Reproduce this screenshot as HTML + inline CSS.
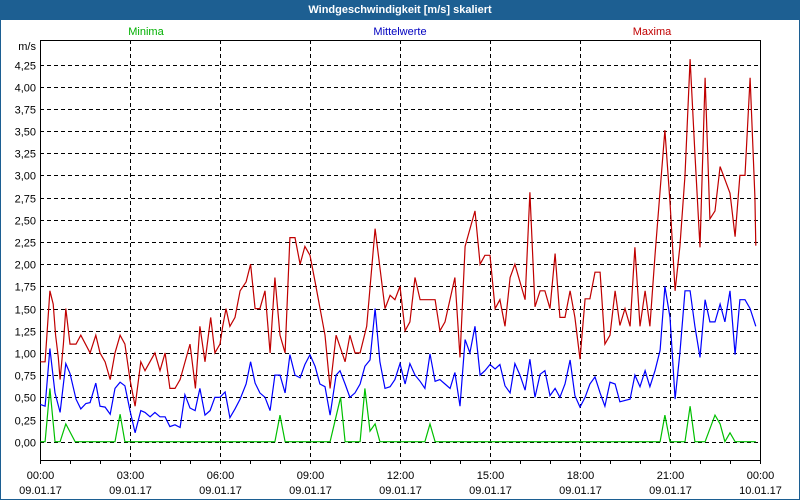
<!DOCTYPE html>
<html><head><meta charset="utf-8"><style>
body{margin:0;width:800px;height:500px;overflow:hidden;background:#fff;font-family:"Liberation Sans",sans-serif}
#win{position:absolute;left:0;top:0;width:798px;height:498px;border:1px solid #1c5e92;background:#fff}
#title{position:absolute;left:0;top:0;width:800px;height:20px;background:#1d5f92;color:#fff;font-weight:bold;font-size:11px;line-height:20px;text-align:center}
</style></head><body>
<div id="win"></div>
<div id="title">Windgeschwindigkeit [m/s] skaliert</div>
<svg id="chart" width="800" height="500" style="position:absolute;left:0;top:0" font-family="Liberation Sans, sans-serif" font-size="11"></svg>
<script>
const yTicks=[0,0.25,0.5,0.75,1,1.25,1.5,1.75,2,2.25,2.5,2.75,3,3.25,3.5,3.75,4,4.25];
const yTickLabels=["0,00","0,25","0,50","0,75","1,00","1,25","1,50","1,75","2,00","2,25","2,50","2,75","3,00","3,25","3,50","3,75","4,00","4,25"];
const xTicks=[0,3,6,9,12,15,18,21,24];
const xTimeLabels=["00:00","03:00","06:00","09:00","12:00","15:00","18:00","21:00","00:00"];
const xDateLabels=["09.01.17","09.01.17","09.01.17","09.01.17","09.01.17","09.01.17","09.01.17","09.01.17","10.01.17"];
const maxT=[0.01,0.17,0.24,0.33,0.44,0.52,0.61,0.67,0.78,0.86,1.0,1.2,1.36,1.67,1.86,2.0,2.17,2.34,2.5,2.67,2.83,3.0,3.17,3.36,3.5,3.83,4.0,4.17,4.33,4.5,4.67,5.0,5.11,5.18,5.33,5.5,5.69,5.83,6.0,6.09,6.2,6.33,6.5,6.67,6.87,7.02,7.17,7.33,7.5,7.67,7.83,8.0,8.17,8.33,8.5,8.67,8.83,9.0,9.17,9.5,9.67,9.87,10.17,10.33,10.5,10.67,10.89,11.17,11.5,11.67,11.83,12.0,12.17,12.33,12.5,12.67,13.17,13.33,13.5,13.83,14.0,14.17,14.5,14.67,14.83,15.0,15.17,15.33,15.5,15.67,15.83,16.0,16.17,16.33,16.44,16.5,16.67,16.83,17.0,17.17,17.33,17.5,17.67,17.83,18.0,18.17,18.33,18.5,18.67,18.83,19.0,19.17,19.33,19.5,19.67,19.83,20.0,20.17,20.33,20.5,20.67,20.83,21.0,21.17,21.33,21.5,21.67,21.83,22.0,22.17,22.33,22.5,22.67,23.0,23.17,23.33,23.5,23.67,23.83,23.86];
const maxV=[0.9,0.9,1.25,1.7,1.55,1.2,0.95,0.7,1.1,1.5,1.1,1.1,1.2,1.0,1.2,1.0,0.9,0.7,1.0,1.2,1.1,0.7,0.4,0.9,0.8,1.0,0.8,1.0,0.6,0.6,0.7,1.1,0.8,0.6,1.3,0.9,1.4,1.0,1.1,1.3,1.5,1.3,1.4,1.7,1.8,2.0,1.5,1.5,1.7,1.0,1.85,1.2,1.0,2.3,2.3,2.0,2.2,2.1,1.8,1.2,0.6,1.2,0.9,1.2,1.0,1.0,1.3,2.4,1.5,1.65,1.6,1.75,1.25,1.35,1.85,1.6,1.6,1.25,1.35,1.85,0.95,2.2,2.6,2.0,2.1,2.1,1.5,1.6,1.3,1.85,2.0,1.8,1.6,2.81,1.97,1.52,1.7,1.7,1.5,2.12,1.4,1.4,1.7,1.4,0.93,1.61,1.61,1.91,1.91,1.1,1.2,1.7,1.31,1.5,1.3,2.19,1.3,1.7,1.3,2.1,2.83,3.51,2.7,1.7,2.2,3.0,4.31,3.25,2.19,4.1,2.51,2.6,3.1,2.8,2.31,3.0,3.0,4.1,2.76,2.21];
const meanT=[0.01,0.17,0.33,0.5,0.67,0.86,1.0,1.2,1.36,1.53,1.67,1.86,2.0,2.17,2.34,2.5,2.67,2.83,3.0,3.17,3.36,3.5,3.67,3.83,4.0,4.17,4.33,4.5,4.67,4.83,5.0,5.17,5.33,5.5,5.67,5.83,6.0,6.17,6.33,6.5,6.67,6.87,7.02,7.17,7.33,7.5,7.67,7.83,8.0,8.17,8.33,8.5,8.67,8.83,9.0,9.17,9.33,9.5,9.67,9.87,10.0,10.17,10.33,10.5,10.67,10.83,11.0,11.17,11.33,11.5,11.67,11.83,12.0,12.17,12.33,12.5,12.67,12.83,13.0,13.17,13.33,13.5,13.67,13.83,14.0,14.17,14.33,14.5,14.67,14.83,15.0,15.17,15.33,15.5,15.67,15.83,16.0,16.17,16.33,16.5,16.67,16.83,17.0,17.17,17.33,17.5,17.67,17.83,18.0,18.17,18.33,18.5,18.67,18.83,19.0,19.17,19.33,19.67,19.83,20.0,20.17,20.33,20.5,20.67,20.83,21.0,21.17,21.33,21.5,21.67,21.83,22.0,22.17,22.33,22.5,22.67,22.83,23.0,23.17,23.33,23.5,23.67,23.86];
const meanV=[0.42,0.40,1.05,0.55,0.33,0.88,0.77,0.48,0.37,0.43,0.44,0.66,0.40,0.39,0.31,0.60,0.67,0.63,0.35,0.10,0.35,0.33,0.28,0.33,0.28,0.28,0.17,0.19,0.16,0.53,0.38,0.35,0.60,0.30,0.35,0.50,0.50,0.56,0.27,0.37,0.48,0.65,0.90,0.66,0.55,0.50,0.35,0.75,0.75,0.55,0.98,0.75,0.72,0.87,0.98,0.85,0.65,0.62,0.30,0.75,0.80,0.65,0.50,0.55,0.65,0.85,0.92,1.5,0.90,0.60,0.62,0.70,0.88,0.65,0.88,0.75,0.68,0.60,0.99,0.68,0.70,0.65,0.60,0.78,0.40,1.15,1.0,1.3,0.75,0.80,0.87,0.82,0.87,0.63,0.55,0.88,0.75,0.58,0.93,0.50,0.76,0.80,0.52,0.60,0.50,0.65,0.92,0.52,0.39,0.50,0.65,0.73,0.55,0.40,0.67,0.65,0.45,0.48,0.75,0.62,0.80,0.62,0.80,1.03,1.75,1.4,0.48,1.0,1.7,1.7,1.3,0.95,1.6,1.35,1.35,1.55,1.35,1.7,0.98,1.6,1.6,1.5,1.3];
const minT=[0.01,0.17,0.33,0.5,0.67,0.86,1.17,2.5,2.67,2.83,7.83,8.0,8.17,9.67,10.02,10.17,10.67,10.83,11.0,11.17,11.33,12.83,13.0,13.17,20.67,20.83,21.0,21.5,21.67,21.83,22.17,22.5,22.67,22.83,23.0,23.17,23.86];
const minV=[0,0,0.6,0,0,0.2,0,0,0.31,0,0,0.3,0,0,0.5,0,0,0.6,0.12,0.2,0,0,0.2,0,0,0.3,0,0,0.4,0,0,0.3,0.2,0,0.1,0,0];

const X0=40,X1=760,Y0=441.7,YTOP=40,YBOT=460;
const PX_PER_UNIT=88.75;
function xs(h){return X0+(X1-X0)*h/24;}
function ys(v){return Y0-v*PX_PER_UNIT;}
const svg=document.getElementById('chart');
const NS='http://www.w3.org/2000/svg';
function mk(tag,attrs){const e=document.createElementNS(NS,tag);for(const k in attrs)e.setAttribute(k,attrs[k]);svg.appendChild(e);return e;}

// horizontal grid + y labels
yTicks.forEach((v,i)=>{
  const y=Math.round(ys(v))+0.5;
  const g=mk('line',{x1:X0,x2:X1,y1:y,y2:y,stroke:'#000','stroke-dasharray':'4,3','stroke-width':1});
  
  
  const t=mk('text',{x:36,y:y+4,'text-anchor':'end',fill:'#000'});
  t.textContent=yTickLabels[i];
  
  
});
const unit=mk('text',{x:36,y:50,'text-anchor':'end',fill:'#000'});
unit.textContent='m/s';



// vertical grid + x labels
xTicks.forEach((h,i)=>{
  const x=Math.round(xs(h))+0.5;
  if(i>0&&i<xTicks.length-1){
    const g=mk('line',{x1:x,x2:x,y1:YTOP,y2:YBOT,stroke:'#000','stroke-dasharray':'4,3','stroke-width':1});
    
    
  }
  const t1=mk('text',{x:x,y:479,'text-anchor':'middle',fill:'#000'});
  t1.textContent=xTimeLabels[i];
  
  
  const t2=mk('text',{x:x,y:494,'text-anchor':'middle',fill:'#000'});
  t2.textContent=xDateLabels[i];
  
  
});
for(let h=0;h<=24;h++){
  const x=Math.round(xs(h))+0.5;
  const tk=mk('line',{x1:x,x2:x,y1:YBOT,y2:YBOT+4,stroke:'#000'});
  
  
}
const frame=mk('rect',{x:X0+0.5,y:YTOP+0.5,width:X1-X0,height:YBOT-YTOP,fill:'none',stroke:'#000'});



function series(T,V,color,name){
  const p=mk('polyline',{points:T.map((t,i)=>xs(t).toFixed(1)+','+ys(V[i]).toFixed(1)).join(' '),fill:'none',stroke:color,'stroke-width':1.2});
  
  
}
series(minT,minV,'#00c000','minima-line');
series(meanT,meanV,'#0000ff','mittelwerte-line');
series(maxT,maxV,'#c00000','maxima-line');

[['Minima',146,'#00b000','legend-minima'],['Mittelwerte',400,'#0000c0','legend-mittelwerte'],['Maxima',652,'#c00000','legend-maxima']].forEach(l=>{
  const t=mk('text',{x:l[1],y:35,'text-anchor':'middle',fill:l[2]});
  t.textContent=l[0];
  
  
});
</script>
</body></html>
